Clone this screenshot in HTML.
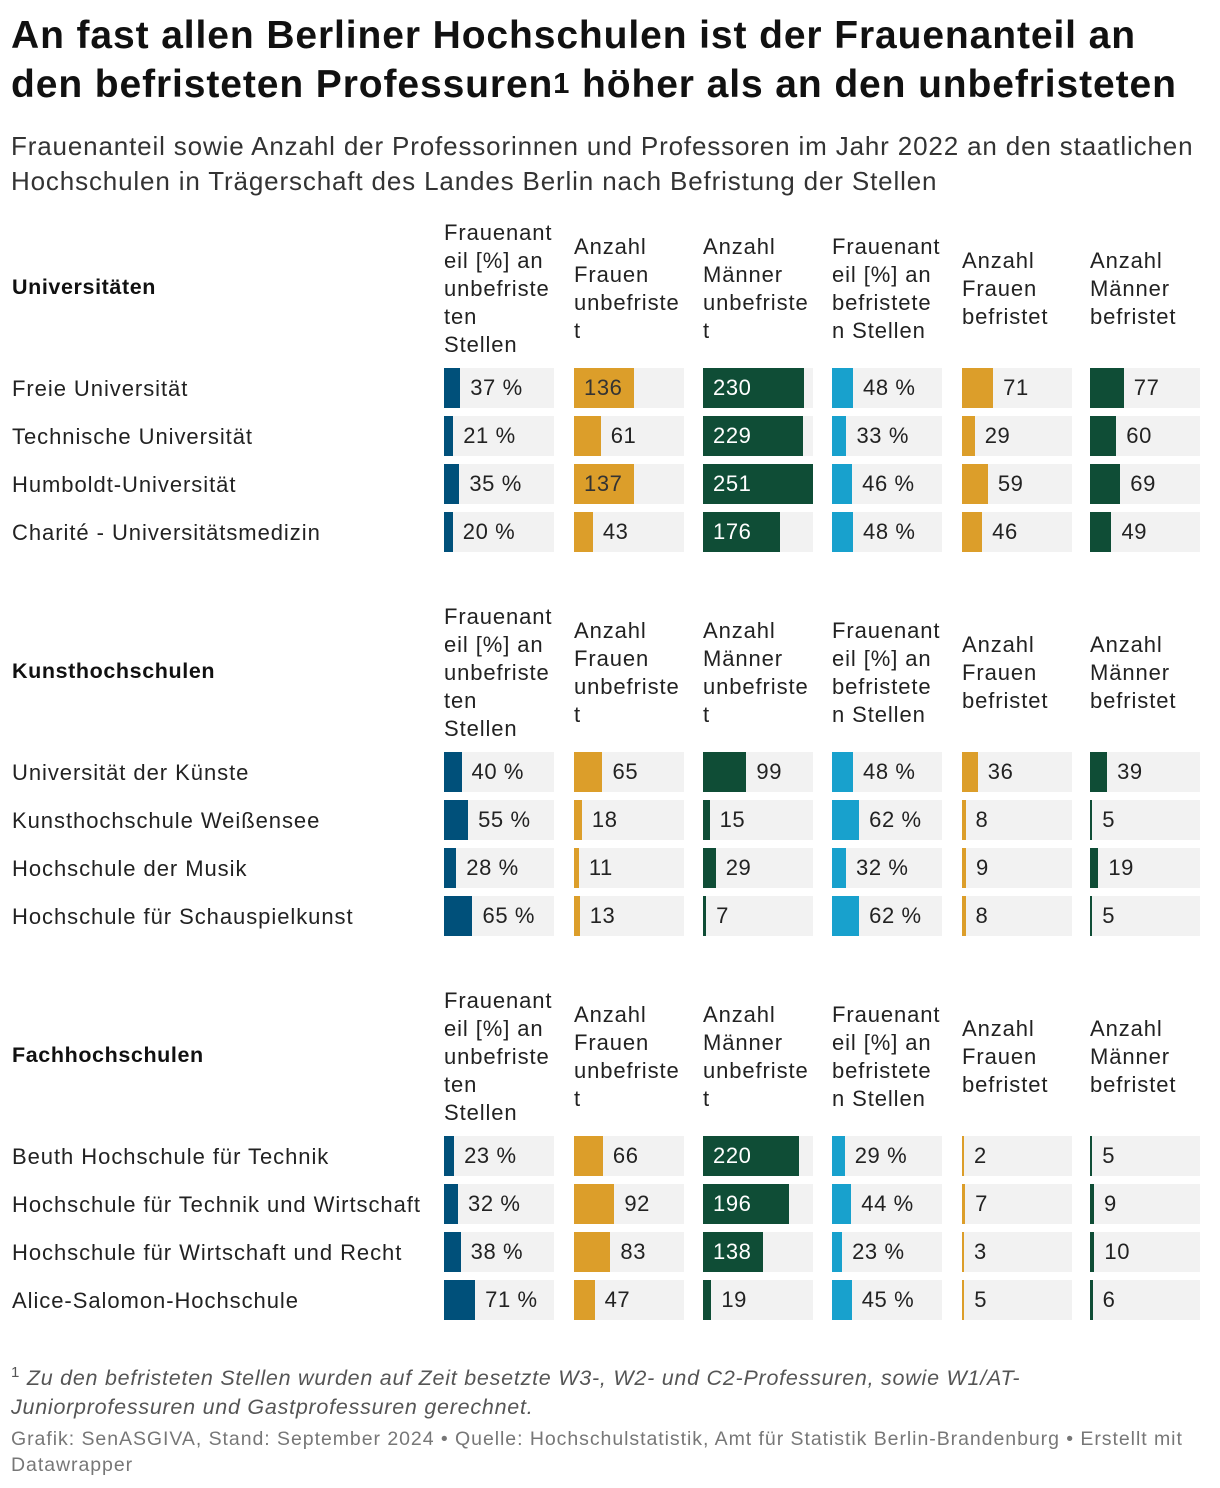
<!DOCTYPE html>
<html><head><meta charset="utf-8">
<style>
body{margin:0;background:#fff;font-family:"Liberation Sans",Arial,sans-serif;color:#1d1d1d;}
#root{position:relative;width:1220px;height:1488px;overflow:hidden;}
.title{position:absolute;left:11px;top:12px;font-size:39px;font-weight:bold;line-height:48px;letter-spacing:0.9px;color:#111;white-space:nowrap;}
.sub{position:absolute;left:11px;top:129px;font-size:26px;line-height:35px;letter-spacing:0.85px;color:#333;white-space:nowrap;}
.abs{position:absolute;white-space:nowrap;}
.hdr{font-size:22px;line-height:28px;letter-spacing:0.9px;color:#222;}
.sec{font-size:21.5px;font-weight:bold;color:#111;letter-spacing:0.6px;}
.lbl{font-size:22px;color:#222;letter-spacing:0.95px;}
.cell{position:absolute;height:40px;background:#f2f2f2;width:110px;}
.bar{position:absolute;left:0;top:0;height:40px;}
.val{position:absolute;top:0;line-height:40px;font-size:22px;letter-spacing:0.6px;}
.foot{position:absolute;left:11px;top:1358px;font-size:21.5px;line-height:29px;letter-spacing:0.75px;color:#555;font-style:italic;white-space:nowrap;}
.src{position:absolute;left:11px;top:1426px;font-size:19.5px;line-height:26px;letter-spacing:0.95px;color:#777;white-space:nowrap;}
</style></head><body>
<div id="root">
<div class="title">An fast allen Berliner Hochschulen ist der Frauenanteil an<br>den befristeten Professuren<span style="font-size:29px;vertical-align:4px">1</span> höher als an den unbefristeten</div>
<div class="sub">Frauenanteil sowie Anzahl der Professorinnen und Professoren im Jahr 2022 an den staatlichen<br>Hochschulen in Trägerschaft des Landes Berlin nach Befristung der Stellen</div>
<div class="foot"><span style="font-size:15px;vertical-align:8px;font-style:normal">1</span> Zu den befristeten Stellen wurden auf Zeit besetzte W3-, W2- und C2-Professuren, sowie W1/AT-<br>Juniorprofessuren und Gastprofessuren gerechnet.</div>
<div class="src">Grafik: SenASGIVA, Stand: September 2024 • Quelle: Hochschulstatistik, Amt für Statistik Berlin-Brandenburg • Erstellt mit<br>Datawrapper</div>
</div>
<script>
const sections=["Universitäten","Kunsthochschulen","Fachhochschulen"];
const institutions=[
["Freie Universität","Technische Universität","Humboldt-Universität","Charité - Universitätsmedizin"],
["Universität der Künste","Kunsthochschule Weißensee","Hochschule der Musik","Hochschule für Schauspielkunst"],
["Beuth Hochschule für Technik","Hochschule für Technik und Wirtschaft","Hochschule für Wirtschaft und Recht","Alice-Salomon-Hochschule"]];
const anteilUnbefristet=[[37,21,35,20],[40,55,28,65],[23,32,38,71]];
const frauenUnbefristet=[[136,61,137,43],[65,18,11,13],[66,92,83,47]];
const maennerUnbefristet=[[230,229,251,176],[99,15,29,7],[220,196,138,19]];
const anteilBefristet=[[48,33,46,48],[48,62,32,62],[29,44,23,45]];
const frauenBefristet=[[71,29,59,46],[36,8,9,8],[2,7,3,5]];
const maennerBefristet=[[77,60,69,49],[39,5,19,5],[5,9,10,6]];
const headers=[["Frauenant","eil [%] an","unbefriste","ten","Stellen"],["Anzahl","Frauen","unbefriste","t"],["Anzahl","Männer","unbefriste","t"],["Frauenant","eil [%] an","befristete","n Stellen"],["Anzahl","Frauen","befristet"],["Anzahl","Männer","befristet"]];
const series=[anteilUnbefristet,frauenUnbefristet,maennerUnbefristet,anteilBefristet,frauenBefristet,maennerBefristet];
const colors=["#00507a","#dc9e2a","#0f4d36","#18a1cd","#dc9e2a","#0f4d36"];
const isPct=[true,false,false,true,false,false];
const colX=[444,574,703,832,962,1090];
const CW=110, maxV=251;
const xScale=v=>v/maxV*CW;
const root=document.getElementById('root');
sections.forEach((s,si)=>{
  const hc=288+si*384;
  const sd=document.createElement('div');
  sd.className='abs sec';sd.style.left='12px';sd.style.top=(hc-13)+'px';sd.textContent=s;
  
  
  root.appendChild(sd);
  headers.forEach((h,ci)=>{
    const d=document.createElement('div');
    d.className='abs hdr';d.style.left=colX[ci]+'px';
    d.style.top=(hc-h.length*14+1)+'px';d.innerHTML=h.join('<br>');
    
    
    root.appendChild(d);
  });
  institutions[si].forEach((name,ri)=>{
    const rc=388+si*384+ri*48;
    const l=document.createElement('div');
    l.className='abs lbl';l.style.left='12px';l.style.top=(rc-12)+'px';l.textContent=name;
    
    
    root.appendChild(l);
    series.forEach((arr,ci)=>{
      const v=arr[si][ri];
      const c=document.createElement('div');
      c.className='cell';c.style.left=colX[ci]+'px';c.style.top=(rc-20)+'px';
      
      
      const b=document.createElement('div');
      b.className='bar';b.style.width=Math.max(2,xScale(v))+'px';b.style.background=colors[ci];
      
      
      c.appendChild(b);
      const t=document.createElement('div');
      t.className='val';t.textContent=isPct[ci]?v+' %':String(v);
      const w=xScale(v);
      if(w>50){t.style.left='10px';t.style.color=(colors[ci]==="#dc9e2a")?'#333':'#fff';}
      else{t.style.left=(Math.max(2,w)+10)+'px';t.style.color='#222';}
      
      
      c.appendChild(t);
      root.appendChild(c);
    });
  });
});
</script>
</body></html>
